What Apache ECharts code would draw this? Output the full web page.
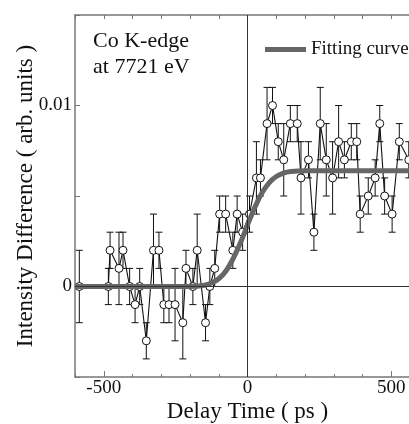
<!DOCTYPE html>
<html>
<head>
<meta charset="utf-8">
<script src="https://cdn.jsdelivr.net/npm/echarts@6/dist/echarts.min.js"></script>
<style>html,body{margin:0;padding:0;background:#fff;}#c{width:409px;height:424px;}</style>
</head>
<body>
<div id="c"></div>
<script>
// Measured data (delay time in ps, intensity difference in arb. units, error bar half-width)
const delayTime = [-585, -484, -478, -447, -433, -410, -391, -375, -352, -327, -308, -291, -273, -252, -225, -214, -190, -175, -146, -131, -114, -97, -76, -51, -36, -17, 7, 31, 45, 68, 87, 107, 126, 149, 173, 186, 212, 231, 253, 274, 296, 317, 337, 361, 380, 392, 420, 444, 460, 477, 503, 528, 561];
const intensity = [0, 0, 0.002, 0.001, 0.002, 0, -0.001, 0, -0.003, 0.002, 0.002, -0.001, -0.001, -0.001, -0.002, 0.001, 0, 0.002, -0.002, 0, 0.001, 0.004, 0.004, 0.002, 0.004, 0.003, 0.004, 0.006, 0.006, 0.009, 0.010, 0.008, 0.007, 0.009, 0.009, 0.006, 0.007, 0.003, 0.009, 0.007, 0.006, 0.008, 0.007, 0.008, 0.008, 0.004, 0.005, 0.006, 0.009, 0.005, 0.004, 0.008, 0.007];
const errorBar = [0.002, 0.001, 0.001, 0.002, 0.001, 0.001, 0.001, 0.001, 0.001, 0.002, 0.001, 0.001, 0.001, 0.002, 0.002, 0.001, 0.001, 0.002, 0.001, 0.001, 0.001, 0.001, 0.001, 0.001, 0.001, 0.001, 0.001, 0.002, 0.001, 0.002, 0.001, 0.001, 0.002, 0.001, 0.001, 0.002, 0.001, 0.001, 0.002, 0.002, 0.002, 0.002, 0.001, 0.001, 0.001, 0.001, 0.001, 0.001, 0.001, 0.001, 0.001, 0.001, 0.001];

// Fitting curve
const fitTime  = [-600, -200, -150, -125, -100, -75, -50, -25, 0, 25, 50, 75, 100, 125, 150, 200, 600];
const fitValue = [0, 0, 0.00007, 0.0002, 0.00043, 0.00086, 0.00154, 0.0024, 0.0034, 0.00435, 0.00516, 0.00573, 0.00608, 0.00627, 0.00635, 0.0064, 0.0064];

const xTickLabels = [-500, 0, 500];
const yTickLabels = ['0', '0.01'];

const pts = delayTime.map((t, i) => [t, intensity[i]]);
const errs = delayTime.map((t, i) => [t, intensity[i] - errorBar[i], intensity[i] + errorBar[i]]);
const fit = fitTime.map((t, i) => [t, fitValue[i]]);

const FONT = '"Liberation Serif", "Times New Roman", serif';
const AX = '#777';

const chart = echarts.init(document.getElementById('c'), null, {renderer: 'canvas'});
chart.setOption({
  animation: false,
  backgroundColor: '#fff',
  textStyle: {fontFamily: FONT},
  grid: {left: 75, top: 15, bottom: 47, right: -11, containLabel: false, outerBoundsMode: 'none'},
  legend: {
    data: [{name: 'Fitting curve', icon: 'rect', itemStyle: {color: '#666'}}],
    left: 265, top: 40, padding: 0,
    itemWidth: 41, itemHeight: 5, itemGap: 5,
    textStyle: {fontFamily: FONT, fontSize: 19, color: '#111'}
  },
  graphic: [{
    type: 'text', left: 93, top: 28, z: 10,
    style: {text: 'Co K-edge\nat 7721 eV', font: '22px ' + FONT, lineHeight: 26, fill: '#111'}
  }],
  xAxis: [{
    type: 'value', position: 'bottom', min: -600, max: 600, interval: 100,
    axisLine: {show: true, onZero: false, lineStyle: {color: AX, width: 1.5}},
    axisTick: {show: true, inside: true, length: 3, lineStyle: {color: AX}},
    axisLabel: {fontSize: 19, color: '#111', fontFamily: FONT, margin: 2,
      formatter: v => (xTickLabels.indexOf(Math.round(v)) >= 0 ? String(Math.round(v)) : '')},
    splitLine: {show: false},
    name: 'Delay Time ( ps )', nameLocation: 'middle', nameGap: 23, nameMoveOverlap: false,
    nameTextStyle: {fontSize: 23, color: '#111', fontFamily: FONT}
  }, {
    type: 'value', position: 'bottom', min: -600, max: 600,
    axisLine: {show: false, onZero: false},
    axisTick: {show: true, inside: true, length: 6, customValues: xTickLabels, lineStyle: {color: AX}},
    axisLabel: {show: false}, splitLine: {show: false}
  }, {
    type: 'value', position: 'top', min: -600, max: 600, interval: 100,
    axisLine: {show: true, onZero: false, lineStyle: {color: AX, width: 1.5}},
    axisTick: {show: true, inside: true, length: 4, lineStyle: {color: AX}},
    axisLabel: {show: false}, splitLine: {show: false}
  }],
  yAxis: [{
    type: 'value', min: -0.005, max: 0.015, interval: 0.005,
    axisLine: {show: true, onZero: false, lineStyle: {color: AX, width: 1.5}},
    axisTick: {show: true, inside: true, length: 5, lineStyle: {color: AX}},
    axisLabel: {fontSize: 19, color: '#111', fontFamily: FONT, margin: 3,
      formatter: v => (Math.abs(v) < 1e-9 ? yTickLabels[0] : (Math.abs(v - 0.01) < 1e-9 ? yTickLabels[1] : ''))},
    splitLine: {show: false},
    name: 'Intensity Difference ( arb. units )', nameLocation: 'middle', nameGap: 38, nameMoveOverlap: false,
    nameTextStyle: {fontSize: 23, color: '#111', fontFamily: FONT}
  }],
  series: [{
    type: 'custom', name: 'err', xAxisIndex: 0, yAxisIndex: 0, z: 2, clip: true,
    data: errs,
    renderItem: (params, api) => {
      const x = api.value(0);
      const a = api.coord([x, api.value(1)]);
      const b = api.coord([x, api.value(2)]);
      const w = 3.5;
      const st = {stroke: '#111', lineWidth: 1};
      return {type: 'group', children: [
        {type: 'line', shape: {x1: a[0], y1: a[1], x2: b[0], y2: b[1]}, style: st},
        {type: 'line', shape: {x1: a[0] - w, y1: a[1], x2: a[0] + w, y2: a[1]}, style: st},
        {type: 'line', shape: {x1: b[0] - w, y1: b[1], x2: b[0] + w, y2: b[1]}, style: st}
      ]};
    }
  }, {
    type: 'line', name: 'data', xAxisIndex: 0, yAxisIndex: 0, z: 3,
    data: pts,
    symbol: 'circle', symbolSize: 8, showAllSymbol: true,
    lineStyle: {color: '#111', width: 1.1},
    itemStyle: {color: '#fff', borderColor: '#111', borderWidth: 1},
    markLine: {
      silent: true, symbol: ['none', 'none'], label: {show: false},
      lineStyle: {color: '#333', width: 1, type: 'solid'},
      data: [{yAxis: 0}, {xAxis: 0}]
    }
  }, {
    type: 'line', name: 'Fitting curve', xAxisIndex: 0, yAxisIndex: 0, z: 4,
    data: fit, smooth: 0.4, symbol: 'none',
    lineStyle: {color: '#666', width: 5}
  }]
});
</script>
</body>
</html>
